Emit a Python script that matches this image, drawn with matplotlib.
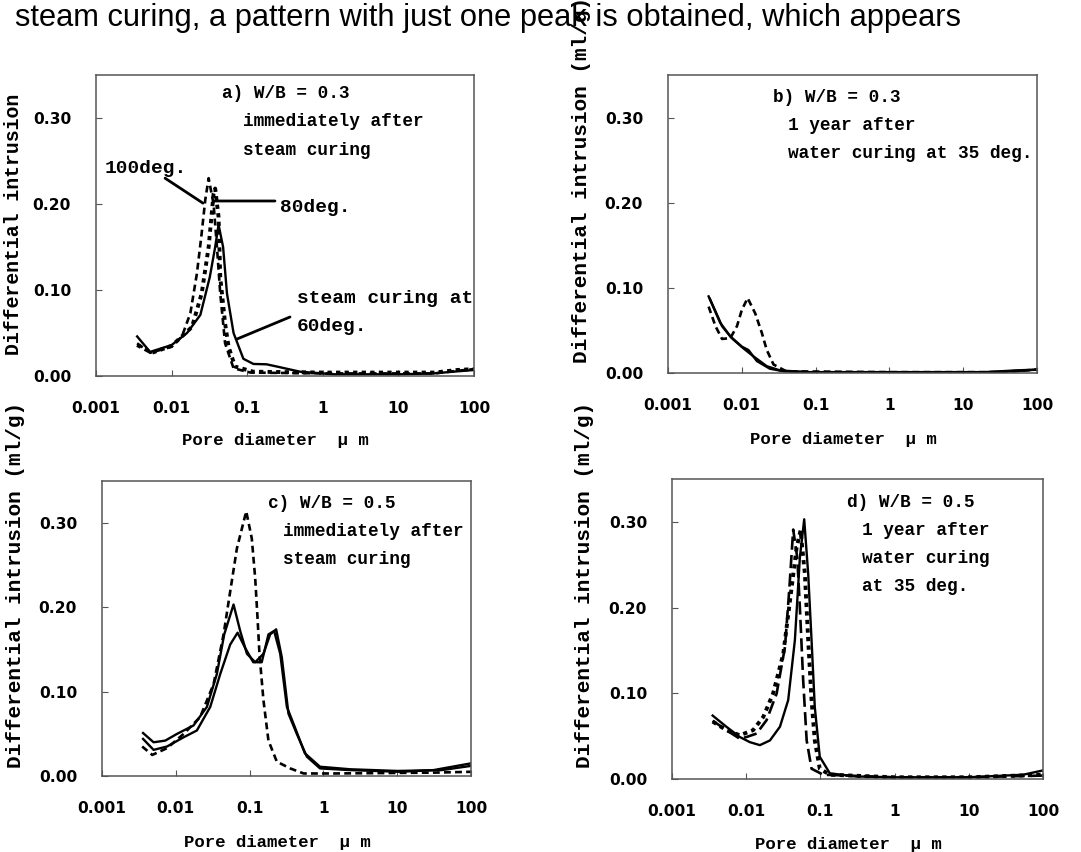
import matplotlib
matplotlib.use('Agg')
import matplotlib.pyplot as plt

# ---- data (pore diameter in um, differential intrusion in ml/g) ----
# a) W/B = 0.3, immediately after steam curing
a_x_60 = [0.0035, 0.0052, 0.010, 0.016, 0.024, 0.032, 0.0377, 0.0418, 0.048, 0.054, 0.066, 0.089,
          0.121, 0.18, 0.247, 0.5, 1.4, 10.5, 29, 53, 100]
a_y_60 = [0.046, 0.028, 0.036, 0.050, 0.071, 0.115, 0.150, 0.176, 0.150, 0.096, 0.050, 0.020,
          0.014, 0.0136, 0.011, 0.005, 0.002, 0.002, 0.003, 0.005, 0.007]
a_x_80 = [0.0035, 0.0055, 0.010, 0.0186, 0.025, 0.0309, 0.0359, 0.0377, 0.0418, 0.044, 0.051,
          0.0567, 0.069, 0.12, 1.0, 10, 30, 60, 100]
a_y_80 = [0.036, 0.027, 0.035, 0.057, 0.096, 0.150, 0.212, 0.218, 0.185, 0.115, 0.061,
          0.034, 0.011, 0.005, 0.004, 0.004, 0.004, 0.007, 0.008]
a_x_100 = [0.0035, 0.0052, 0.010, 0.0137, 0.0177, 0.0216, 0.0247, 0.0279, 0.0309, 0.0359, 0.0398,
           0.044, 0.051, 0.066, 0.11, 1.0, 10, 30, 60, 100]
a_y_100 = [0.038, 0.027, 0.034, 0.046, 0.073, 0.119, 0.162, 0.205, 0.230, 0.200, 0.150,
           0.096, 0.038, 0.009, 0.004, 0.003, 0.003, 0.003, 0.006, 0.008]

# b) W/B = 0.3, 1 year after water curing at 35 deg.
b_x_s1 = [0.00355, 0.0051, 0.007, 0.010, 0.0123, 0.016, 0.024, 0.037, 0.076, 1.0, 20, 50, 100]
b_y_s1 = [0.090, 0.059, 0.043, 0.031, 0.027, 0.014, 0.005, 0.002, 0.001, 0.001, 0.001, 0.003, 0.004]
b_x_s2 = [0.0037, 0.0054, 0.0073, 0.0105, 0.0144, 0.0218, 0.033, 0.08, 1.0, 20, 50, 100]
b_y_s2 = [0.087, 0.055, 0.041, 0.029, 0.0195, 0.008, 0.003, 0.001, 0.001, 0.001, 0.002, 0.004]
b_x_d = [0.00355, 0.0044, 0.0054, 0.0070, 0.0086, 0.010, 0.012, 0.0152, 0.0187, 0.0218, 0.0269,
         0.040, 1.0, 30, 100]
b_y_d = [0.078, 0.055, 0.040, 0.041, 0.055, 0.074, 0.088, 0.070, 0.047, 0.027, 0.010,
         0.002, 0.001, 0.001, 0.004]

# c) W/B = 0.5, immediately after steam curing
c_x_100 = [0.0035, 0.0048, 0.0076, 0.0128, 0.0214, 0.0325, 0.0444, 0.0546, 0.0673, 0.090, 0.107,
           0.119, 0.128, 0.136, 0.154, 0.18, 0.234, 0.355, 0.54, 1.37, 31, 100]
c_y_100 = [0.035, 0.025, 0.033, 0.050, 0.070, 0.109, 0.168, 0.219, 0.270, 0.314, 0.282,
           0.235, 0.188, 0.145, 0.090, 0.042, 0.017, 0.009, 0.003, 0.003, 0.004, 0.005]
c_x_80 = [0.0036, 0.005, 0.0072, 0.0104, 0.0174, 0.0264, 0.036, 0.0453, 0.0606, 0.0746, 0.092,
          0.119, 0.154, 0.19, 0.229, 0.273, 0.336, 0.436, 0.596, 0.90, 2.3, 11, 31, 100]
c_y_80 = [0.051, 0.040, 0.042, 0.050, 0.060, 0.082, 0.121, 0.168, 0.2035, 0.172, 0.145,
          0.135, 0.145, 0.168, 0.174, 0.141, 0.074, 0.050, 0.023, 0.009, 0.007, 0.005, 0.007, 0.015]
c_x_60 = [0.0036, 0.005, 0.0076, 0.0128, 0.0193, 0.0293, 0.040, 0.0546, 0.0687, 0.087, 0.112,
          0.146, 0.18, 0.215, 0.26, 0.32, 0.41, 0.56, 0.90, 2.3, 10, 40, 100]
c_y_60 = [0.044, 0.031, 0.035, 0.046, 0.054, 0.082, 0.121, 0.156, 0.170, 0.152, 0.135,
          0.135, 0.168, 0.172, 0.145, 0.082, 0.058, 0.027, 0.011, 0.008, 0.006, 0.007, 0.012]

# d) W/B = 0.5, 1 year after water curing at 35 deg.
d_x_s = [0.00353, 0.0054, 0.0082, 0.0112, 0.0153, 0.0209, 0.0285, 0.0368, 0.0453, 0.0529, 0.0605,
         0.0685, 0.076, 0.084, 0.098, 0.134, 0.30, 1.0, 10, 54, 100]
d_y_s = [0.074, 0.061, 0.049, 0.043, 0.0395, 0.045, 0.061, 0.092, 0.162, 0.2585, 0.303,
         0.239, 0.162, 0.084, 0.026, 0.0066, 0.003, 0.002, 0.002, 0.005, 0.010]
d_x_ld = [0.00353, 0.0054, 0.0082, 0.0101, 0.0138, 0.0188, 0.0257, 0.0333, 0.038, 0.043, 0.0488,
          0.0529, 0.0586, 0.0653, 0.076, 0.109, 1.0, 10, 100]
d_y_ld = [0.068, 0.057, 0.047, 0.049, 0.053, 0.0686, 0.0996, 0.154, 0.220, 0.291, 0.258,
          0.200, 0.115, 0.045, 0.012, 0.005, 0.002, 0.002, 0.004]
d_x_dot = [0.00353, 0.0054, 0.0082, 0.0124, 0.017, 0.023, 0.0316, 0.0389, 0.0478, 0.054, 0.0618,
           0.0685, 0.076, 0.084, 0.098, 0.134, 1.0, 10, 100]
d_y_dot = [0.067, 0.057, 0.051, 0.057, 0.0725, 0.0996, 0.146, 0.208, 0.270, 0.290, 0.239,
           0.162, 0.092, 0.045, 0.012, 0.005, 0.002, 0.002, 0.005]

x_ticks = [0.001, 0.01, 0.1, 1, 10, 100]
x_ticklabels = ['0.001', '0.01', '0.1', '1', '10', '100']
y_ticks = [0.0, 0.1, 0.2, 0.3]

header = "steam curing, a pattern with just one peak is obtained, which appears"
ylab_full = "Differential intrusion (ml/g)"
ylab_short = "Differential intrusion"
xlab = "Pore diameter  \u03bc m"

MONO = 'Liberation Mono'
W, H = 1081, 852

SOLID = dict(color='black', lw=1.7, linestyle='-')
DOTTED = dict(color='black', lw=2.8, linestyle=(0, (1.1, 1.1)))
DASHED = dict(color='black', lw=1.9, linestyle=(0, (2.6, 1.6)))
LONGDASH = dict(color='black', lw=1.9, linestyle=(0, (5, 2)))

fig = plt.figure(figsize=(W / 100, H / 100), dpi=100)


def add_panel(left, top, right, bottom):
    ax = fig.add_axes([left / W, 1 - bottom / H, (right - left) / W, (bottom - top) / H])
    ax.set_xscale('log')
    ax.set_xlim(0.001, 100)
    ax.set_ylim(0, 0.35)
    ax.set_xticks(x_ticks)
    ax.set_xticklabels(x_ticklabels, family='DejaVu Sans', fontweight='bold', fontsize=11.2)
    ax.xaxis.set_minor_locator(matplotlib.ticker.NullLocator())
    ax.set_yticks(y_ticks)
    ax.set_yticklabels(['%.2f' % v for v in y_ticks], family='DejaVu Sans', fontweight='bold',
                       fontsize=11.2)
    ax.tick_params(direction='in', length=4.5, width=0.8, color='#555555', pad=18)
    for s in ax.spines.values():
        s.set_color('#555555')
        s.set_linewidth(1.1)
    return ax


def heading(ax, lines, x0, y0, step, size=12.8):
    for i, (indent, txt) in enumerate(lines):
        ax.text(x0 + indent, y0 - i * step, txt, transform=ax.transAxes, family=MONO,
                fontweight='bold', fontsize=size, ha='left', va='center')


def labels(ax, ylab, ysize, ycoords, xy):
    ax.set_ylabel(ylab, loc='bottom', family=MONO, fontweight='bold', fontsize=ysize)
    ax.yaxis.set_label_coords(*ycoords)
    ax.set_xlabel(xlab, family=MONO, fontweight='bold', fontsize=12.5)
    ax.xaxis.set_label_coords(0.475, xy)


# ---- panel a ----
ax_a = add_panel(96, 75, 474, 376)
ax_a.plot(a_x_100, a_y_100, **DASHED)
ax_a.plot(a_x_80, a_y_80, **DOTTED)
ax_a.plot(a_x_60, a_y_60, **SOLID)
heading(ax_a, [(0, "a) W/B = 0.3"), (0.056, "immediately after"), (0.056, "steam curing")],
        0.333, 0.94, 0.095)
lead = dict(arrowstyle='-', lw=2, color='black', shrinkA=0, shrinkB=0)
ax_a.annotate('', xy=(0.026, 0.201), xytext=(0.0082, 0.230), arrowprops=lead)
ax_a.annotate('', xy=(0.0375, 0.2035), xytext=(0.233, 0.2035), arrowprops=lead)
ax_a.annotate('', xy=(0.0733, 0.043), xytext=(0.368, 0.0686), arrowprops=lead)
for txt, x, y in [("100deg.", 0.024, 0.691), ("80deg.", 0.487, 0.561),
                  ("steam curing at", 0.532, 0.256), ("60deg.", 0.532, 0.163)]:
    ax_a.text(x, y, txt, transform=ax_a.transAxes, family=MONO, fontweight='bold',
              fontsize=14, ha='left', va='center')
labels(ax_a, ylab_short, 14.3, (-0.193, 0.07), -0.19)

# ---- panel b ----
ax_b = add_panel(668, 75, 1037, 373)
ax_b.plot(b_x_d, b_y_d, **DASHED)
ax_b.plot(b_x_s2, b_y_s2, **SOLID)
ax_b.plot(b_x_s1, b_y_s1, **SOLID)
heading(ax_b, [(0, "b) W/B = 0.3"), (0.04, "1 year after"), (0.04, "water curing at 35 deg.")],
        0.285, 0.926, 0.095)
labels(ax_b, ylab_full, 15.2, (-0.209, 0.034), -0.198)

# ---- panel c ----
ax_c = add_panel(102, 481, 471, 776)
ax_c.plot(c_x_100, c_y_100, **DASHED)
ax_c.plot(c_x_80, c_y_80, **SOLID)
ax_c.plot(c_x_60, c_y_60, **SOLID)
heading(ax_c, [(0, "c) W/B = 0.5"), (0.04, "immediately after"), (0.04, "steam curing")],
        0.45, 0.925, 0.095)
labels(ax_c, ylab_full, 15.2, (-0.21, 0.027), -0.2)

# ---- panel d ----
ax_d = add_panel(672, 479, 1043, 779)
ax_d.plot(d_x_ld, d_y_ld, **LONGDASH)
ax_d.plot(d_x_dot, d_y_dot, **DOTTED)
ax_d.plot(d_x_s, d_y_s, **SOLID)
heading(ax_d, [(0, "d) W/B = 0.5"), (0.04, "1 year after"), (0.04, "water curing"),
               (0.04, "at 35 deg.")], 0.472, 0.923, 0.094)
labels(ax_d, ylab_full, 15.2, (-0.21, 0.037), -0.193)

fig.text(15 / W, 1 - 26 / H, header, family='Liberation Sans', fontsize=22.2,
         ha='left', va='baseline')

fig.savefig('out.png', dpi=100)
